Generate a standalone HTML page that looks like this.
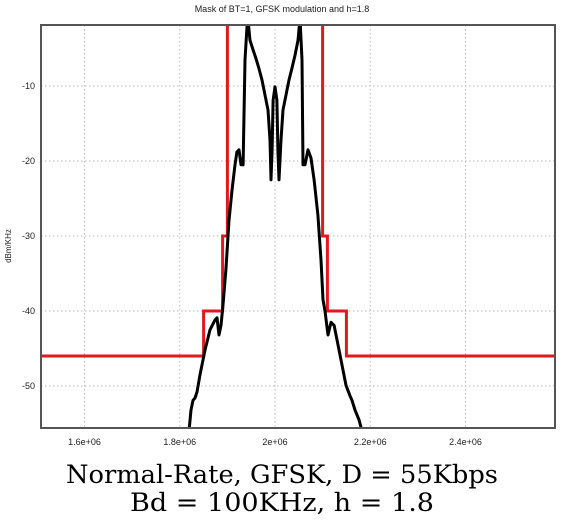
<!DOCTYPE html>
<html><head><meta charset="utf-8"><style>
html,body{margin:0;padding:0;background:#fff;}
svg{display:block;font-family:"Liberation Sans",sans-serif;}
</style></head><body>
<svg id="chart" width="564" height="523" viewBox="0 0 564 523">
<text x="282" y="12" font-size="9" text-anchor="middle" fill="#222">Mask of BT=1, GFSK modulation and h=1.8</text>
<text transform="translate(11,246) rotate(-90)" font-size="8" text-anchor="middle" fill="#222">dBm/KHz</text>
<g id="grid"></g>
<g id="ticks"></g>
<defs><clipPath id="pc"><rect x="41" y="25" width="514" height="403"/></clipPath></defs>
<g clip-path="url(#pc)">
<path id="mask" fill="none" stroke="#e0191b" stroke-width="3"/>
<path id="psd" fill="none" stroke="#000" stroke-width="3" stroke-linejoin="round"/>
</g>
<rect x="41" y="25" width="514" height="403" fill="none" stroke="#555" stroke-width="2"/>
<text x="282" y="483" font-family="'DejaVu Serif','Liberation Serif',serif" font-size="25" text-anchor="middle" textLength="432" lengthAdjust="spacingAndGlyphs">Normal-Rate, GFSK, D = 55Kbps</text>
<text x="282" y="511" font-family="'DejaVu Serif','Liberation Serif',serif" font-size="25" text-anchor="middle" textLength="304" lengthAdjust="spacingAndGlyphs">Bd = 100KHz, h = 1.8</text>
</svg>
<script>
const xTicks=[1.6e6,1.8e6,2.0e6,2.2e6,2.4e6];
const xTickLabels=["1.6e+06","1.8e+06","2e+06","2.2e+06","2.4e+06"];
const yTicks=[-10,-20,-30,-40,-50];
const yTickLabels=["-10","-20","-30","-40","-50"];
const maskFreq=[1.5e6,1.85e6,1.85e6,1.89e6,1.89e6,1.9e6,1.9e6,2.1e6,2.1e6,2.11e6,2.11e6,2.15e6,2.15e6,2.7e6];
const maskLevel=[-46,-46,-40,-40,-30,-30,10,10,-30,-30,-40,-40,-46,-46];
const psdFreq=[1.8194e6,1.8236e6,1.8278e6,1.832e6,1.8362e6,1.8425e6,1.853e6,1.8635e6,1.874e6,1.8782e6,1.8824e6,1.8866e6,1.8908e6,1.897e6,1.9034e6,1.9097e6,1.916e6,1.92e6,1.9244e6,1.9286e6,1.933e6,1.937e6,1.941e6,1.943e6,1.9475e6,1.954e6,1.96e6,1.966e6,1.9727e6,1.979e6,1.9853e6,1.9895e6,1.9916e6,1.994e6,1.996e6,2.0e6,2.004e6,2.006e6,2.0084e6,2.0126e6,2.0168e6,2.023e6,2.0294e6,2.0357e6,2.042e6,2.0483e6,2.0525e6,2.0567e6,2.0588e6,2.063e6,2.0693e6,2.0756e6,2.082e6,2.09e6,2.0966e6,2.1008e6,2.105e6,2.1113e6,2.1176e6,2.124e6,2.1323e6,2.1407e6,2.149e6,2.1575e6,2.1617e6,2.168e6,2.1764e6,2.1827e6];
const psdLevel=[-56,-53.2,-51.9,-51.6,-50.8,-48.5,-45.2,-42.5,-41.2,-40.9,-43.2,-41.9,-39.2,-34.5,-27.9,-23.9,-20.5,-18.8,-18.5,-20.5,-20.5,-6.5,-2.3,-1,-3.9,-5.2,-6.3,-7.6,-9.2,-11.2,-13.2,-17.2,-22.5,-18.5,-11.9,-10.1,-11.9,-18.5,-22.5,-17.2,-13.2,-11.2,-9.2,-7.6,-5.9,-3.9,-1,-6.5,-20.5,-20.5,-18.5,-19.6,-22.5,-27.2,-33.2,-38.5,-40,-43.2,-41.5,-41.9,-44.5,-47.2,-49.9,-51.3,-51.9,-53.2,-54.5,-56];
const X=f=>275+(f-2e6)*476.25e-6;
const Y=v=>86-(v+10)*7.5;
const NS="http://www.w3.org/2000/svg";
const grid=document.getElementById('grid'),ticks=document.getElementById('ticks');
xTicks.forEach((t,i)=>{
  const l=document.createElementNS(NS,'line');
  
  
  l.setAttribute('x1',X(t));l.setAttribute('x2',X(t));l.setAttribute('y1',25);l.setAttribute('y2',428);
  l.setAttribute('stroke','#bbb');l.setAttribute('stroke-dasharray','1.5,2.5');
  grid.appendChild(l);
  const s=document.createElementNS(NS,'text');
  
  
  s.setAttribute('x',X(t));s.setAttribute('y',445);s.setAttribute('font-size','9');s.setAttribute('text-anchor','middle');s.setAttribute('fill','#222');
  s.textContent=xTickLabels[i];ticks.appendChild(s);
});
yTicks.forEach((t,i)=>{
  const l=document.createElementNS(NS,'line');
  
  
  l.setAttribute('x1',41);l.setAttribute('x2',555);l.setAttribute('y1',Y(t));l.setAttribute('y2',Y(t));
  l.setAttribute('stroke','#bbb');l.setAttribute('stroke-dasharray','1.5,2.5');
  grid.appendChild(l);
  const s=document.createElementNS(NS,'text');
  
  
  s.setAttribute('x',35);s.setAttribute('y',Y(t)+3);s.setAttribute('font-size','9');s.setAttribute('text-anchor','end');s.setAttribute('fill','#222');
  s.textContent=yTickLabels[i];ticks.appendChild(s);
});
const path=(fs,vs)=>fs.map((f,i)=>(i?'L':'M')+X(f).toFixed(1)+','+Y(vs[i]).toFixed(1)).join('');
document.getElementById('mask').setAttribute('d',path(maskFreq,maskLevel));
document.getElementById('psd').setAttribute('d',path(psdFreq,psdLevel));
</script>
</body></html>
